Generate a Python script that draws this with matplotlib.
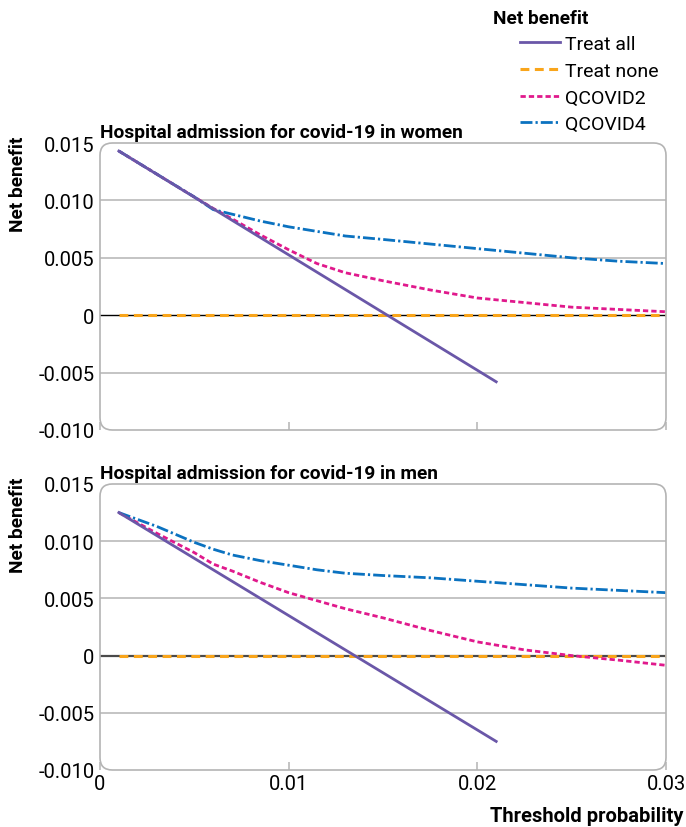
import matplotlib.pyplot as plt
from matplotlib.patches import FancyBboxPatch
from matplotlib.lines import Line2D

plt.rcParams['font.family'] = ['Roboto', 'DejaVu Sans']

# threshold probabilities
x_all = [0.001, 0.021]
x_model = [0.001, 0.003, 0.005, 0.006, 0.007, 0.0085, 0.010, 0.0115, 0.013, 0.015,
           0.0175, 0.020, 0.0225, 0.025, 0.0275, 0.030]
x_none = [0.001, 0.030]
none_vals = [0, 0]

# women
w_all = [0.0143, -0.0058]
w_q2 = [0.0143, 0.0123, 0.0103, 0.0093, 0.0084, 0.0070, 0.0057, 0.0045, 0.0037, 0.0030,
        0.0022, 0.0015, 0.0011, 0.0007, 0.0005, 0.0003]
w_q4 = [0.0143, 0.0123, 0.0103, 0.0092, 0.0088, 0.0082, 0.0077, 0.0073, 0.0069, 0.0066,
        0.0062, 0.0058, 0.0054, 0.0050, 0.0047, 0.0045]

# men
m_all = [0.0125, -0.0075]
m_q2 = [0.0125, 0.0107, 0.0090, 0.0080, 0.0074, 0.0064, 0.0055, 0.0048, 0.0041, 0.0033,
        0.0022, 0.0012, 0.0005, 0.0000, -0.0004, -0.00085]
m_q4 = [0.0125, 0.0113, 0.0099, 0.0093, 0.0088, 0.0083, 0.0079, 0.0075, 0.0072, 0.0070,
        0.0068, 0.0065, 0.0062, 0.0059, 0.0057, 0.0055]

titles = ['Hospital admission for covid-19 in women', 'Hospital admission for covid-19 in men']
yticks = [-0.010, -0.005, 0, 0.005, 0.010, 0.015]
ytick_labels = ['-0.010', '-0.005', '0', '0.005', '0.010', '0.015']
xticks = [0, 0.01, 0.02, 0.03]
xtick_labels = ['0', '0.01', '0.02', '0.03']
labels = ['Treat all', 'Treat none', 'QCOVID2', 'QCOVID4']

c_all = '#6a57a8'
c_none = '#f9a51b'
c_q2 = '#e0198c'
c_q4 = '#0b72c0'
grey = '#b4b4b4'

ls_none = (0, (2.9, 1.8))
ls_q2 = (0, (1.9, 1.1))
ls_q4 = (0, (4.3, 1.1, 0.8, 1.1))

W, H = 686, 828
fig = plt.figure(figsize=(W / 100, H / 100), dpi=100)

# axes positions in pixels: left, top, right, bottom
boxes = [(100, 144, 666, 431), (100, 485, 666, 771)]
panels = [(w_all, w_q2, w_q4), (m_all, m_q2, m_q4)]
zero_style = [('black', 1.0), ('#4a4a4a', 1.6)]

for i, (box, data) in enumerate(zip(boxes, panels)):
    l, t, r, b = box
    ax = fig.add_axes([l / W, 1 - b / H, (r - l) / W, (b - t) / H])
    ax.set_xlim(0, 0.03)
    ax.set_ylim(-0.010, 0.015)
    for s in ax.spines.values():
        s.set_visible(False)
    for y in [-0.005, 0.005, 0.010]:
        ax.axhline(y, color=grey, lw=1.1, zorder=1)
    ax.axhline(0, color=zero_style[i][0], lw=zero_style[i][1], zorder=2)

    all_v, q2_v, q4_v = data
    ax.plot(x_none, none_vals, color=c_none, lw=2.2, linestyle=ls_none, zorder=3)
    ax.plot(x_model, q2_v, color=c_q2, lw=2.0, linestyle=ls_q2, zorder=4)
    ax.plot(x_model, q4_v, color=c_q4, lw=2.0, linestyle=ls_q4, zorder=4)
    ax.plot(x_all, all_v, color=c_all, lw=2.0, zorder=5)

    ax.set_yticks(yticks)
    ax.set_yticklabels(ytick_labels)
    ax.set_xticks(xticks)
    if i == 1:
        ax.set_xticklabels(xtick_labels)
    else:
        ax.set_xticklabels([])
    ax.tick_params(axis='y', length=0, labelsize=14.5, pad=4)
    ax.tick_params(axis='x', direction='in', length=6, color=grey, width=1.1,
                   labelsize=14.5, pad=3)
    ax.set_title(titles[i], loc='left', fontsize=13.8, fontweight='bold', pad=4)

    # rounded frame
    frame = FancyBboxPatch((l / W, 1 - b / H), (r - l) / W, (b - t) / H,
                           boxstyle='round,pad=0,rounding_size=0.018',
                           mutation_aspect=W / H,
                           transform=fig.transFigure, fill=False,
                           edgecolor=grey, lw=1.2, zorder=10)
    fig.add_artist(frame)

    fig.text(18 / W, 1 - (t - 7) / H, 'Net benefit', rotation=90, ha='center', va='top',
             fontsize=13.8, fontweight='bold')

fig.text(683 / W, 1 - 817 / H, 'Threshold probability', ha='right', va='center',
         fontsize=14.5, fontweight='bold')

# legend
fig.text(493 / W, 1 - 19 / H, 'Net benefit', ha='left', va='center',
         fontsize=13.8, fontweight='bold')
handles = [
    Line2D([], [], color=c_all, lw=2.0),
    Line2D([], [], color=c_none, lw=2.2, linestyle=ls_none),
    Line2D([], [], color=c_q2, lw=2.0, linestyle=ls_q2),
    Line2D([], [], color=c_q4, lw=2.0, linestyle=ls_q4),
]
fig.legend(handles, labels, loc='upper left', bbox_to_anchor=(520 / W, 1 - 36 / H),
           frameon=False, fontsize=14, handlelength=2.05, handletextpad=0.28,
           labelspacing=0.45, borderpad=0, borderaxespad=0)

fig.savefig('out.png', dpi=100)
